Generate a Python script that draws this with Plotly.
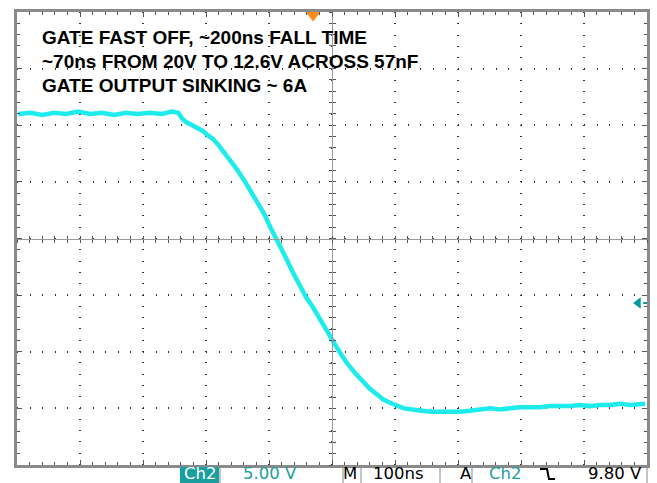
import plotly.graph_objects as go

# ---- data (time in ns, Ch2 voltage in V) ----
time_ns = [-468, -449, -430, -411, -392, -373, -354, -335, -316, -297, -278, -259, -240, -224, -214,
           -208, -202, -192, -183, -175, -167, -159, -151, -141, -132, -121, -110, -100, -89, -78,
           -67, -56, -45, -33, -22, -11, 0, 11, 22, 33, 44, 55, 67, 78, 89, 100, 111, 122, 133, 144,
           157, 170, 186, 201, 217, 233, 249, 265, 281, 297, 313, 328, 344, 360, 376, 392, 408, 424,
           440, 455, 471, 487, 503, 527]
ch2_volts = [26.5, 26.6, 26.4, 26.6, 26.5, 26.7, 26.5, 26.6, 26.4, 26.6, 26.5, 26.6, 26.5, 26.7, 26.6,
             26.1, 25.8, 25.5, 25.3, 25.0, 24.6, 24.3, 23.8, 23.1, 22.4, 21.6, 20.7, 19.8, 18.7, 17.7,
             16.4, 15.3, 14.0, 12.6, 11.4, 10.3, 9.4, 8.3, 7.2, 6.3, 5.3, 4.4, 3.6, 2.9, 2.3, 1.8, 1.3,
             1.0, 0.7, 0.5, 0.4, 0.3, 0.2, 0.2, 0.2, 0.2, 0.3, 0.4, 0.5, 0.4, 0.5, 0.6, 0.6, 0.6, 0.7,
             0.7, 0.7, 0.8, 0.7, 0.8, 0.8, 0.9, 0.8, 0.9]

TRIGGER_TIME = 0
TRIGGER_LEVEL = 9.8
T_RANGE = [-470, 530]      # 100 ns/div, 10 div
V_RANGE = [-4.5, 35.5]     # 5 V/div, 8 div

notes = ["GATE FAST OFF, ~200ns FALL TIME",
         "~70ns FROM 20V TO 12.6V ACROSS 57nF",
         "GATE OUTPUT SINKING ~ 6A"]
status_items = ["Ch2", "5.00 V", "M", "100ns", "A", "Ch2", "9.80 V"]

# ---- geometry ----
W, H = 657, 483
ML, MR, MT, MB = 17, 10, 12, 18
PW, PH = W - ML - MR, H - MT - MB
TEAL = "#1A9E9E"
TRACE = "#1EEBEB"


def px(x):
    return (x - ML) / PW


def py(y):
    return (H - MB - y) / PH


fig = go.Figure()
fig.add_trace(go.Scatter(x=time_ns, y=ch2_volts, mode="lines",
                         line=dict(color=TRACE, width=4.5), hoverinfo="skip"))
# trigger time marker (top, orange)
fig.add_trace(go.Scatter(x=[TRIGGER_TIME], y=[V_RANGE[1] - 0.27], mode="markers",
                         marker=dict(symbol="triangle-down", size=13, color="#FF8C1A"),
                         cliponaxis=False, hoverinfo="skip"))
# trigger level marker (right, teal)
fig.add_trace(go.Scatter(x=[T_RANGE[1] - 6, T_RANGE[1]], y=[TRIGGER_LEVEL, TRIGGER_LEVEL], mode="lines",
                         line=dict(color="#009A9A", width=2), cliponaxis=False, hoverinfo="skip"))
fig.add_trace(go.Scatter(x=[T_RANGE[1] - 14], y=[TRIGGER_LEVEL], mode="markers",
                         marker=dict(symbol="triangle-left", size=10, color="#009A9A"),
                         cliponaxis=False, hoverinfo="skip"))
# empty traces so the centre crosshair axes get drawn
fig.add_trace(go.Scatter(x=[], y=[], xaxis="x2", yaxis="y2", hoverinfo="skip"))
fig.add_trace(go.Scatter(x=[], y=[], xaxis="x3", yaxis="y3", hoverinfo="skip"))

border = dict(showline=True, linecolor="#8A8A8A", linewidth=3, mirror="allticks",
              ticks="inside", ticklen=5, tickcolor="#555", tickwidth=1,
              showticklabels=False, zeroline=False,
              showgrid=True, gridcolor="#333", gridwidth=1.5)

fig.update_layout(
    width=W, height=H, margin=dict(l=ML, r=MR, t=MT, b=MB, autoexpand=False),
    paper_bgcolor="white", plot_bgcolor="white", showlegend=False,
    xaxis=dict(range=T_RANGE, tick0=T_RANGE[0], dtick=100, griddash="1px,10.3px",
               minor=dict(dtick=20, tick0=T_RANGE[0], ticks="inside", ticklen=3, tickcolor="#555"),
               **border),
    yaxis=dict(range=V_RANGE, tick0=V_RANGE[0], dtick=5, griddash="1px,11.6px",
               minor=dict(dtick=1, tick0=V_RANGE[0], ticks="inside", ticklen=3, tickcolor="#555"),
               **border),
)

center = dict(showline=True, linecolor="#9A9A9A", linewidth=1, ticklen=3, tickcolor="#555",
              tickwidth=1, showticklabels=False, showgrid=False, zeroline=False, automargin=False)
fig.update_layout(
    xaxis2=dict(overlaying="x", anchor="free", position=0.5, range=T_RANGE, tick0=T_RANGE[0],
                dtick=20, ticks="outside", **center),
    xaxis3=dict(overlaying="x", anchor="free", position=0.5, range=T_RANGE, tick0=T_RANGE[0],
                dtick=20, ticks="inside", **center),
    yaxis2=dict(overlaying="y", anchor="free", position=0.5, range=V_RANGE, tick0=V_RANGE[0],
                dtick=1, ticks="outside", **center),
    yaxis3=dict(overlaying="y", anchor="free", position=0.5, range=V_RANGE, tick0=V_RANGE[0],
                dtick=1, ticks="inside", **center),
)

# notes
for i, (txt, yy) in enumerate(zip(notes, [38, 61, 86])):
    fig.add_annotation(text=txt, xref="paper", yref="paper", x=px(40), y=py(yy),
                       xanchor="left", yanchor="middle", showarrow=False,
                       font=dict(family="Liberation Sans, Arial", size=19, color="black", weight="bold"))

# status bar
fig.add_shape(type="rect", xref="paper", yref="paper", x0=px(180), x1=px(219), y0=py(467), y1=py(484),
              fillcolor=TEAL, line=dict(width=0))
for xx in [220, 343, 361, 440, 472, 647]:
    fig.add_shape(type="line", xref="paper", yref="paper", x0=px(xx), x1=px(xx), y0=py(467), y1=py(484),
                  line=dict(color="#8A8A8A", width=1))
fig.add_shape(type="path", xref="paper", yref="paper",
              path=f"M{px(540)},{py(469)} L{px(547)},{py(469)} L{px(549)},{py(479)} L{px(555)},{py(479)}",
              line=dict(color="black", width=2))
sfont = "DejaVu Sans"
specs = [(status_items[0], 199.5, "center", "white"),
         (status_items[1], 242, "left", TEAL),
         (status_items[2], 342, "left", "black"),
         (status_items[3], 372, "left", "black"),
         (status_items[4], 459, "left", "black"),
         (status_items[5], 488, "left", TEAL),
         (status_items[6], 643, "right", "black")]
for txt, xx, anc, col in specs:
    fig.add_annotation(text=txt, xref="paper", yref="paper", x=px(xx), y=py(473),
                       xanchor=anc, yanchor="middle", showarrow=False, borderpad=0,
                       font=dict(family=sfont, size=16.5, color=col))

fig.write_html("out.html", config={"displayModeBar": False},
               post_script="document.body.style.margin='0';document.body.style.overflow='hidden';")
